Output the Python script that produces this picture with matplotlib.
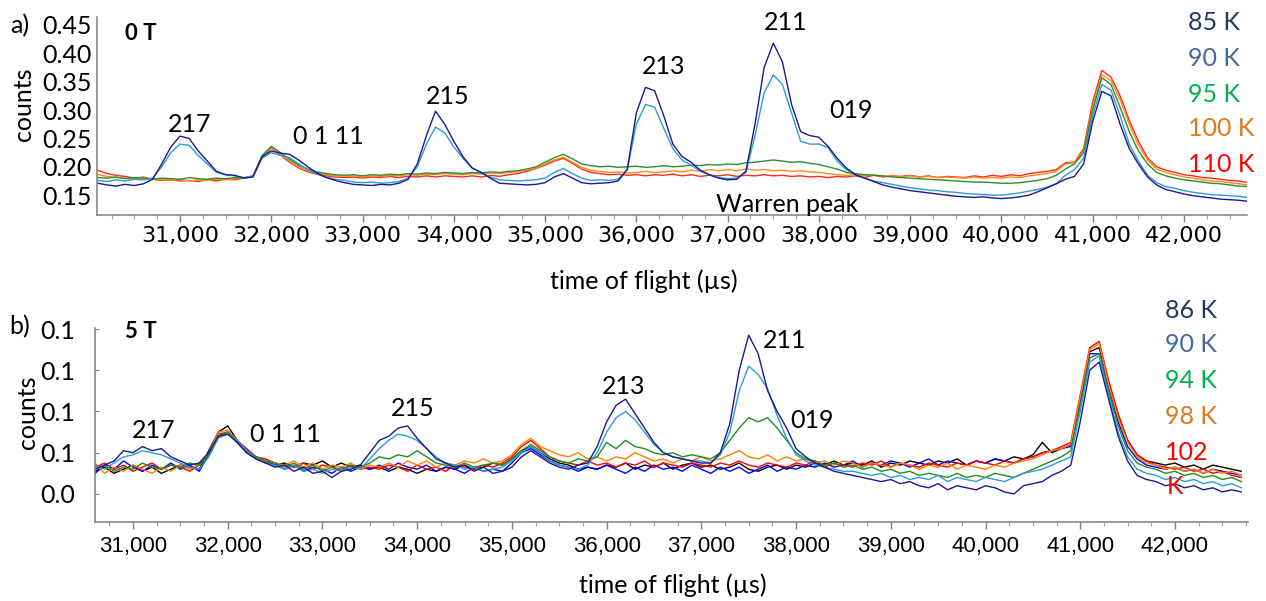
import numpy as np
import matplotlib
matplotlib.use("Agg")
import matplotlib.pyplot as plt
from matplotlib.ticker import MultipleLocator, FixedLocator, FuncFormatter

# fonts
LABEL_FONT = ["Lato", "DejaVu Sans"]
NARROW_FONT = ["Liberation Sans Narrow", "DejaVu Sans"]
HELV_FONT = ["Liberation Sans", "DejaVu Sans"]

# ---------------- panel a) 0 T ----------------
tof_a = list(range(30100, 42800, 100))

a85 = [0.171, 0.168, 0.166, 0.169, 0.167, 0.170, 0.178, 0.205, 0.235, 0.254,
       0.250, 0.228, 0.210, 0.192, 0.186, 0.185, 0.180, 0.182, 0.218, 0.228,
       0.224, 0.222, 0.212, 0.200, 0.189, 0.181, 0.176, 0.172, 0.169, 0.168,
       0.167, 0.169, 0.168, 0.171, 0.178, 0.205, 0.255, 0.298, 0.275, 0.245,
       0.218, 0.198, 0.190, 0.180, 0.171, 0.170, 0.169, 0.168, 0.169, 0.172,
       0.182, 0.188, 0.180, 0.172, 0.170, 0.171, 0.172, 0.175, 0.195, 0.295,
       0.340, 0.334, 0.290, 0.240, 0.218, 0.208, 0.194, 0.186, 0.180, 0.177,
       0.178, 0.192, 0.275, 0.375, 0.418, 0.385, 0.310, 0.262, 0.255, 0.252,
       0.236, 0.215, 0.198, 0.186, 0.180, 0.174, 0.168, 0.164, 0.161, 0.158,
       0.156, 0.154, 0.152, 0.150, 0.148, 0.147, 0.146, 0.147, 0.145, 0.144,
       0.145, 0.147, 0.150, 0.156, 0.163, 0.170, 0.178, 0.183, 0.205, 0.280,
       0.333, 0.325, 0.275, 0.232, 0.205, 0.182, 0.168, 0.160, 0.156, 0.152,
       0.149, 0.147, 0.145, 0.143, 0.142, 0.141, 0.139]

a90 = [0.176, 0.174, 0.177, 0.175, 0.178, 0.177, 0.180, 0.200, 0.225, 0.240,
       0.238, 0.220, 0.205, 0.190, 0.186, 0.184, 0.181, 0.184, 0.215, 0.225,
       0.220, 0.216, 0.205, 0.195, 0.187, 0.182, 0.178, 0.176, 0.173, 0.172,
       0.173, 0.171, 0.172, 0.174, 0.180, 0.200, 0.240, 0.270, 0.260, 0.235,
       0.215, 0.198, 0.190, 0.182, 0.177, 0.176, 0.175, 0.176, 0.177, 0.180,
       0.190, 0.197, 0.188, 0.180, 0.176, 0.177, 0.176, 0.178, 0.195, 0.275,
       0.310, 0.305, 0.268, 0.232, 0.212, 0.203, 0.192, 0.186, 0.181, 0.179,
       0.180, 0.190, 0.255, 0.330, 0.362, 0.345, 0.295, 0.245, 0.240, 0.240,
       0.234, 0.210, 0.195, 0.186, 0.180, 0.175, 0.172, 0.169, 0.166, 0.163,
       0.161, 0.159, 0.158, 0.156, 0.155, 0.153, 0.152, 0.151, 0.150, 0.150,
       0.152, 0.154, 0.157, 0.160, 0.164, 0.170, 0.185, 0.195, 0.215, 0.290,
       0.345, 0.335, 0.290, 0.240, 0.210, 0.185, 0.172, 0.165, 0.162, 0.158,
       0.155, 0.153, 0.151, 0.150, 0.149, 0.148, 0.146]

a95 = [0.181, 0.180, 0.182, 0.179, 0.181, 0.180, 0.178, 0.180, 0.179, 0.178,
       0.181, 0.179, 0.178, 0.180, 0.179, 0.181, 0.180, 0.184, 0.220, 0.236,
       0.225, 0.213, 0.203, 0.196, 0.191, 0.188, 0.186, 0.185, 0.186, 0.184,
       0.186, 0.185, 0.187, 0.186, 0.188, 0.187, 0.189, 0.188, 0.190, 0.189,
       0.188, 0.190, 0.189, 0.191, 0.190, 0.192, 0.193, 0.196, 0.200, 0.208,
       0.216, 0.222, 0.214, 0.205, 0.202, 0.200, 0.201, 0.199, 0.200, 0.201,
       0.199, 0.200, 0.202, 0.200, 0.201, 0.203, 0.202, 0.204, 0.203, 0.205,
       0.204, 0.207, 0.208, 0.210, 0.212, 0.210, 0.208, 0.209, 0.206, 0.204,
       0.200, 0.196, 0.190, 0.188, 0.186, 0.185, 0.184, 0.182, 0.181, 0.180,
       0.179, 0.178, 0.177, 0.176, 0.175, 0.174, 0.173, 0.173, 0.172, 0.171,
       0.171, 0.172, 0.174, 0.176, 0.179, 0.185, 0.196, 0.205, 0.225, 0.300,
       0.357, 0.345, 0.305, 0.262, 0.228, 0.205, 0.190, 0.184, 0.180, 0.177,
       0.175, 0.173, 0.171, 0.170, 0.168, 0.166, 0.165]

a100 = [0.186, 0.183, 0.181, 0.180, 0.178, 0.181, 0.179, 0.177, 0.176, 0.178,
        0.175, 0.177, 0.176, 0.178, 0.177, 0.179, 0.180, 0.183, 0.218, 0.234,
        0.222, 0.210, 0.200, 0.193, 0.189, 0.186, 0.184, 0.183, 0.184, 0.182,
        0.184, 0.183, 0.185, 0.184, 0.186, 0.185, 0.187, 0.186, 0.188, 0.187,
        0.186, 0.188, 0.187, 0.189, 0.188, 0.190, 0.191, 0.194, 0.198, 0.205,
        0.212, 0.217, 0.208, 0.199, 0.194, 0.192, 0.190, 0.191, 0.189, 0.190,
        0.192, 0.190, 0.191, 0.193, 0.191, 0.194, 0.192, 0.195, 0.193, 0.195,
        0.193, 0.196, 0.194, 0.195, 0.193, 0.194, 0.192, 0.193, 0.191, 0.190,
        0.188, 0.186, 0.185, 0.186, 0.184, 0.186, 0.183, 0.185, 0.182, 0.184,
        0.182, 0.183, 0.181, 0.182, 0.181, 0.180, 0.182, 0.180, 0.181, 0.180,
        0.182, 0.181, 0.184, 0.186, 0.188, 0.192, 0.205, 0.207, 0.228, 0.305,
        0.362, 0.352, 0.318, 0.275, 0.238, 0.212, 0.196, 0.190, 0.186, 0.182,
        0.180, 0.177, 0.175, 0.174, 0.172, 0.170, 0.168]

a110 = [0.194, 0.188, 0.185, 0.183, 0.180, 0.182, 0.178, 0.176, 0.177, 0.175,
        0.176, 0.174, 0.177, 0.175, 0.178, 0.177, 0.180, 0.183, 0.216, 0.233,
        0.221, 0.208, 0.198, 0.191, 0.187, 0.184, 0.182, 0.181, 0.182, 0.180,
        0.182, 0.181, 0.183, 0.181, 0.183, 0.182, 0.184, 0.182, 0.184, 0.183,
        0.182, 0.184, 0.182, 0.185, 0.183, 0.186, 0.188, 0.192, 0.197, 0.203,
        0.210, 0.215, 0.206, 0.196, 0.190, 0.188, 0.186, 0.187, 0.185, 0.186,
        0.184, 0.186, 0.185, 0.187, 0.184, 0.186, 0.183, 0.185, 0.184, 0.186,
        0.183, 0.185, 0.184, 0.186, 0.184, 0.185, 0.183, 0.184, 0.182, 0.183,
        0.181, 0.183, 0.182, 0.184, 0.181, 0.185, 0.182, 0.184, 0.183, 0.185,
        0.182, 0.184, 0.181, 0.183, 0.182, 0.181, 0.184, 0.182, 0.185, 0.183,
        0.186, 0.184, 0.188, 0.190, 0.192, 0.195, 0.207, 0.208, 0.232, 0.315,
        0.370, 0.358, 0.325, 0.282, 0.245, 0.216, 0.200, 0.194, 0.190, 0.186,
        0.184, 0.181, 0.180, 0.178, 0.176, 0.175, 0.172]

# ---------------- panel b) 5 T ----------------
tof_b = list(range(30600, 42800, 100))

b86 = [0.052, 0.054, 0.056, 0.061, 0.060, 0.063, 0.061, 0.062, 0.058, 0.056,
       0.054, 0.055, 0.060, 0.068, 0.069, 0.065, 0.060, 0.057, 0.055, 0.053,
       0.054, 0.051, 0.053, 0.050, 0.051, 0.048, 0.051, 0.052, 0.054, 0.060,
       0.066, 0.068, 0.072, 0.073, 0.067, 0.062, 0.057, 0.055, 0.053, 0.054,
       0.051, 0.053, 0.050, 0.051, 0.053, 0.058, 0.061, 0.058, 0.055, 0.053,
       0.052, 0.054, 0.055, 0.063, 0.075, 0.083, 0.086, 0.079, 0.072, 0.065,
       0.060, 0.058, 0.057, 0.056, 0.055, 0.055, 0.060, 0.074, 0.100, 0.117,
       0.108, 0.090, 0.080, 0.072, 0.062, 0.058, 0.055, 0.053, 0.051, 0.050,
       0.049, 0.048, 0.047, 0.046, 0.047, 0.045, 0.046, 0.044, 0.043, 0.045,
       0.042, 0.044, 0.043, 0.042, 0.044, 0.043, 0.041, 0.040, 0.044, 0.045,
       0.046, 0.049, 0.051, 0.054, 0.075, 0.100, 0.104, 0.086, 0.068, 0.056,
       0.049, 0.047, 0.046, 0.044, 0.045, 0.043, 0.044, 0.042, 0.043, 0.041,
       0.042, 0.041]

b90 = [0.054, 0.052, 0.055, 0.058, 0.059, 0.061, 0.060, 0.059, 0.057, 0.055,
       0.053, 0.052, 0.058, 0.067, 0.069, 0.066, 0.061, 0.057, 0.055, 0.054,
       0.052, 0.054, 0.051, 0.052, 0.050, 0.052, 0.051, 0.053, 0.052, 0.057,
       0.062, 0.066, 0.069, 0.068, 0.066, 0.062, 0.058, 0.055, 0.054, 0.052,
       0.053, 0.051, 0.052, 0.053, 0.056, 0.060, 0.063, 0.060, 0.056, 0.054,
       0.053, 0.052, 0.054, 0.060, 0.070, 0.077, 0.080, 0.076, 0.070, 0.064,
       0.060, 0.058, 0.057, 0.056, 0.056, 0.055, 0.059, 0.070, 0.090, 0.102,
       0.098, 0.091, 0.078, 0.067, 0.059, 0.056, 0.054, 0.053, 0.052, 0.051,
       0.051, 0.050, 0.049, 0.050, 0.048, 0.049, 0.047, 0.048, 0.047, 0.049,
       0.046, 0.048, 0.047, 0.046, 0.048, 0.047, 0.046, 0.048, 0.050, 0.051,
       0.052, 0.054, 0.056, 0.058, 0.080, 0.104, 0.107, 0.088, 0.070, 0.058,
       0.052, 0.050, 0.049, 0.047, 0.048, 0.046, 0.047, 0.045, 0.046, 0.044,
       0.045, 0.043]

b94 = [0.052, 0.054, 0.051, 0.053, 0.052, 0.055, 0.053, 0.052, 0.054, 0.053,
       0.055, 0.054, 0.059, 0.068, 0.070, 0.066, 0.061, 0.058, 0.056, 0.055,
       0.053, 0.055, 0.052, 0.054, 0.051, 0.053, 0.052, 0.054, 0.053, 0.055,
       0.058, 0.057, 0.059, 0.058, 0.061, 0.058, 0.055, 0.054, 0.053, 0.055,
       0.053, 0.054, 0.055, 0.054, 0.057, 0.061, 0.064, 0.061, 0.058, 0.056,
       0.055, 0.057, 0.056, 0.058, 0.065, 0.062, 0.066, 0.063, 0.062, 0.060,
       0.059, 0.060, 0.058, 0.059, 0.058, 0.057, 0.060, 0.066, 0.072, 0.077,
       0.075, 0.077, 0.072, 0.066, 0.060, 0.057, 0.056, 0.054, 0.055, 0.053,
       0.054, 0.052, 0.053, 0.051, 0.052, 0.050, 0.051, 0.049, 0.050, 0.049,
       0.048, 0.050, 0.048, 0.049, 0.048, 0.050, 0.049, 0.048, 0.050, 0.052,
       0.054, 0.056, 0.058, 0.061, 0.083, 0.106, 0.108, 0.090, 0.073, 0.061,
       0.055, 0.053, 0.052, 0.050, 0.051, 0.049, 0.050, 0.048, 0.049, 0.047,
       0.048, 0.046]

b98 = [0.055, 0.050, 0.053, 0.051, 0.054, 0.052, 0.050, 0.053, 0.051, 0.054,
       0.052, 0.055, 0.060, 0.070, 0.071, 0.066, 0.061, 0.058, 0.056, 0.055,
       0.054, 0.056, 0.053, 0.055, 0.052, 0.054, 0.053, 0.055, 0.052, 0.054,
       0.053, 0.055, 0.053, 0.056, 0.054, 0.056, 0.053, 0.055, 0.054, 0.056,
       0.055, 0.057, 0.055, 0.056, 0.059, 0.064, 0.067, 0.063, 0.061, 0.059,
       0.058, 0.060, 0.057, 0.058, 0.056, 0.058, 0.057, 0.060, 0.058, 0.056,
       0.057, 0.055, 0.057, 0.056, 0.058, 0.056, 0.057, 0.059, 0.061, 0.058,
       0.057, 0.059, 0.056, 0.058, 0.056, 0.057, 0.055, 0.056, 0.054, 0.056,
       0.055, 0.053, 0.055, 0.054, 0.053, 0.055, 0.054, 0.052, 0.054, 0.053,
       0.055, 0.052, 0.054, 0.053, 0.052, 0.054, 0.053, 0.055, 0.056, 0.057,
       0.059, 0.061, 0.062, 0.064, 0.087, 0.110, 0.113, 0.093, 0.077, 0.065,
       0.058, 0.055, 0.054, 0.052, 0.053, 0.051, 0.052, 0.050, 0.052, 0.050,
       0.051, 0.049]

b102 = [0.053, 0.055, 0.052, 0.054, 0.051, 0.053, 0.055, 0.052, 0.054, 0.053,
        0.051, 0.054, 0.060, 0.069, 0.070, 0.066, 0.062, 0.058, 0.057, 0.055,
        0.054, 0.053, 0.055, 0.052, 0.054, 0.053, 0.051, 0.054, 0.052, 0.053,
        0.052, 0.054, 0.053, 0.051, 0.054, 0.052, 0.053, 0.051, 0.054, 0.053,
        0.052, 0.054, 0.053, 0.055, 0.058, 0.063, 0.066, 0.062, 0.058, 0.056,
        0.055, 0.054, 0.056, 0.054, 0.055, 0.053, 0.055, 0.054, 0.056, 0.053,
        0.055, 0.054, 0.053, 0.055, 0.054, 0.053, 0.055, 0.054, 0.056, 0.054,
        0.053, 0.055, 0.054, 0.053, 0.055, 0.054, 0.056, 0.053, 0.055, 0.054,
        0.053, 0.055, 0.054, 0.056, 0.053, 0.055, 0.054, 0.053, 0.055, 0.054,
        0.053, 0.055, 0.054, 0.056, 0.055, 0.054, 0.056, 0.055, 0.057, 0.058,
        0.060, 0.061, 0.063, 0.065, 0.088, 0.111, 0.114, 0.095, 0.079, 0.066,
        0.059, 0.056, 0.054, 0.053, 0.052, 0.053, 0.051, 0.052, 0.050, 0.051,
        0.049, 0.048]

b_black = [0.051, 0.053, 0.050, 0.052, 0.054, 0.051, 0.053, 0.050, 0.052, 0.054,
           0.053, 0.052, 0.061, 0.070, 0.073, 0.066, 0.061, 0.058, 0.056, 0.054,
           0.055, 0.053, 0.055, 0.054, 0.056, 0.053, 0.055, 0.053, 0.054, 0.052,
           0.053, 0.051, 0.053, 0.052, 0.050, 0.052, 0.051, 0.053, 0.052, 0.054,
           0.052, 0.053, 0.055, 0.054, 0.057, 0.061, 0.063, 0.060, 0.057, 0.055,
           0.054, 0.052, 0.053, 0.052, 0.054, 0.053, 0.055, 0.052, 0.054, 0.053,
           0.055, 0.052, 0.054, 0.055, 0.053, 0.054, 0.052, 0.053, 0.055, 0.052,
           0.051, 0.053, 0.054, 0.052, 0.054, 0.053, 0.055, 0.054, 0.056, 0.054,
           0.055, 0.054, 0.056, 0.053, 0.055, 0.054, 0.056, 0.055, 0.054, 0.056,
           0.055, 0.057, 0.054, 0.056, 0.055, 0.057, 0.056, 0.058, 0.057, 0.059,
           0.065, 0.060, 0.062, 0.064, 0.086, 0.109, 0.111, 0.094, 0.078, 0.066,
           0.059, 0.056, 0.055, 0.054, 0.055, 0.053, 0.054, 0.052, 0.054, 0.053,
           0.052, 0.051]

b_blue = [0.050, 0.054, 0.052, 0.056, 0.053, 0.051, 0.054, 0.052, 0.055, 0.052,
          0.054, 0.051, 0.059, 0.068, 0.070, 0.065, 0.060, 0.057, 0.055, 0.054,
          0.052, 0.054, 0.051, 0.053, 0.052, 0.050, 0.053, 0.051, 0.053, 0.052,
          0.054, 0.052, 0.055, 0.053, 0.052, 0.054, 0.051, 0.053, 0.052, 0.050,
          0.053, 0.051, 0.052, 0.051, 0.055, 0.060, 0.062, 0.059, 0.056, 0.054,
          0.053, 0.051, 0.053, 0.052, 0.054, 0.052, 0.050, 0.053, 0.051, 0.054,
          0.052, 0.053, 0.051, 0.054, 0.052, 0.050, 0.053, 0.051, 0.053, 0.050,
          0.052, 0.054, 0.051, 0.053, 0.052, 0.054, 0.053, 0.055, 0.053, 0.054,
          0.056, 0.053, 0.055, 0.054, 0.056, 0.055, 0.053, 0.055, 0.057, 0.054,
          0.056, 0.055, 0.054, 0.056, 0.055, 0.057, 0.056, 0.055, 0.057, 0.058,
          0.060, 0.061, 0.062, 0.063, 0.084, 0.108, 0.108, 0.092, 0.075, 0.063,
          0.057, 0.054, 0.053, 0.052, 0.053, 0.051, 0.052, 0.050, 0.052, 0.051,
          0.050, 0.049]

legend_a = ["85 K", "90 K", "95 K", "100 K", "110 K"]
legend_b = ["86 K", "90 K", "94 K", "98 K", "102"]
legend_colors = ["#1f3a60", "#44699c", "#00b050", "#e2761b", "#ff0000"]

peaks_a = ["217", "0 1 11", "215", "213", "211", "019"]
peaks_b = ["217", "0 1 11", "215", "213", "211", "019"]

x_major = [31000, 32000, 33000, 34000, 35000, 36000, 37000, 38000, 39000, 40000, 41000, 42000]

W, H = 1266, 601
fig = plt.figure(figsize=(W / 100, H / 100), dpi=100)


def fpos(x, y):
    return x / W, 1 - y / H


def txt(x, y, s, **kw):
    kw.setdefault("family", LABEL_FONT)
    kw.setdefault("fontsize", 18)
    kw.setdefault("ha", "center")
    kw.setdefault("va", "center")
    fx, fy = fpos(x, y)
    fig.text(fx, fy, s, **kw)


def style_axis(ax):
    for side in ["top", "right"]:
        ax.spines[side].set_visible(False)
    for side in ["left", "bottom"]:
        ax.spines[side].set_color("#7f7f7f")
        ax.spines[side].set_linewidth(1.1)
    ax.set_facecolor("none")
    ax.xaxis.set_major_locator(FixedLocator(x_major))
    ax.xaxis.set_minor_locator(MultipleLocator(250))
    ax.xaxis.set_major_formatter(FuncFormatter(lambda v, p: f"{int(v):,}"))
    ax.tick_params(axis="x", which="major", direction="out", length=5, width=1, color="#7f7f7f")
    ax.tick_params(axis="x", which="minor", direction="out", length=3, width=0.8, color="#9f9f9f")


# panel a
ax_a = fig.add_axes([97 / W, 1 - 215 / H, 1150 / W, 198 / H])
style_axis(ax_a)
ax_a.plot(tof_a, a110, color="#ff2a1a", lw=1.0)
ax_a.plot(tof_a, a100, color="#ff8c1a", lw=1.0)
ax_a.plot(tof_a, a95, color="#2e8b2e", lw=1.0)
ax_a.plot(tof_a, a90, color="#2e9bd6", lw=1.0)
ax_a.plot(tof_a, a85, color="#1a1a8f", lw=1.0)
ax_a.set_xlim(30091, 42690)
ax_a.set_ylim(0.115, 0.464)
ax_a.set_yticks([0.15, 0.20, 0.25, 0.30, 0.35, 0.40, 0.45])
ax_a.yaxis.set_major_formatter(FuncFormatter(lambda v, p: f"{v:.2f}"))
ax_a.tick_params(axis="y", length=0, pad=4, labelsize=18)
ax_a.tick_params(axis="x", pad=3, labelsize=16)
for lab in ax_a.get_yticklabels():
    lab.set_family(LABEL_FONT)
for lab in ax_a.get_xticklabels():
    lab.set_family(NARROW_FONT)

# panel b
ax_b = fig.add_axes([95 / W, 1 - 522 / H, 1153 / W, 194 / H])
style_axis(ax_b)
ax_b.plot(tof_b, b_black, color="#000000", lw=1.0)
ax_b.plot(tof_b, b_blue, color="#0000ff", lw=1.0)
ax_b.plot(tof_b, b102, color="#ff0000", lw=1.0)
ax_b.plot(tof_b, b98, color="#ff8000", lw=1.0)
ax_b.plot(tof_b, b94, color="#1f8f1f", lw=1.0)
ax_b.plot(tof_b, b90, color="#2e9bd6", lw=1.0)
ax_b.plot(tof_b, b86, color="#1a1a8f", lw=1.0)
ax_b.set_xlim(30599, 42771)
ax_b.set_ylim(0.0264, 0.1205)
ax_b.set_yticks([0.04, 0.06, 0.08, 0.10, 0.12])
ax_b.yaxis.set_major_formatter(FuncFormatter(lambda v, p: f"{v:.1f}"))
ax_b.tick_params(axis="y", direction="in", length=3, color="#7f7f7f", pad=14, labelsize=18)
ax_b.tick_params(axis="x", pad=5, labelsize=16)
for lab in ax_b.get_yticklabels():
    lab.set_family(LABEL_FONT)
for lab in ax_b.get_xticklabels():
    lab.set_family(HELV_FONT)

# panel a texts
txt(20, 26, "a)", fontsize=18)
txt(23, 104, "counts", rotation=90, fontsize=18)
txt(141, 33, "0 T", fontweight="bold", fontsize=16)
for s, (x, y) in zip(peaks_a, [(190, 124), (328, 137), (448, 96), (664, 66), (786, 22), (851, 110)]):
    txt(x, y, s)
txt(787, 205, "Warren peak")
txt(644, 281, "time of flight (\u00b5s)")
for s, c, y in zip(legend_a, legend_colors, [22, 59, 94, 128, 165]):
    txt(1188, y, s, color=c, ha="left")

# panel b texts
txt(20, 327, "b)", fontsize=18)
txt(27, 412, "counts", rotation=90, fontsize=18)
txt(141, 332, "5 T", fontweight="bold", fontsize=16)
for s, (x, y) in zip(peaks_b, [(154, 431), (285, 434), (413, 409), (624, 387), (785, 340), (812, 421)]):
    txt(x, y, s)
txt(673, 585, "time of flight (\u00b5s)")
for s, c, y in zip(legend_b, legend_colors, [310, 345, 381, 417, 452]):
    txt(1165, y, s, color=c, ha="left")
txt(1167, 487, "K", color=legend_colors[4], ha="left")

fig.savefig("out.png", dpi=100)
